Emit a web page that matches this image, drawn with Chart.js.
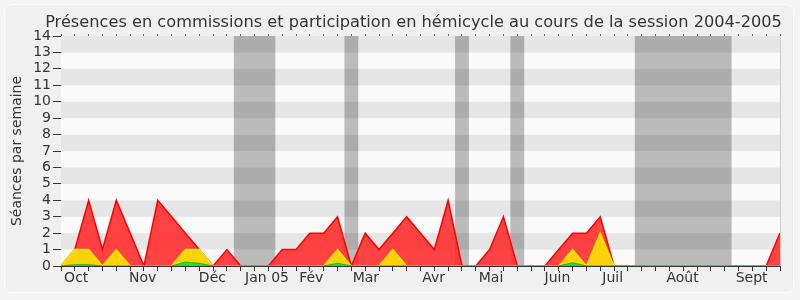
<!DOCTYPE html>
<html>
<head>
<meta charset="utf-8">
<script src="https://cdn.jsdelivr.net/npm/chart.js@4/dist/chart.umd.min.js"></script>
<style>
  body { margin: 0; background: #f5f5f5; }
  #wrap { position: relative; width: 800px; height: 300px; }
  #frame { position: absolute; left: 4px; top: 4px; width: 790px; height: 289px; box-sizing: border-box;
    border: 1px solid #fdfdfd; border-radius: 8px; background: #f0f0f0; }
  canvas { position: absolute; left: 0; top: 0; }
</style>
</head>
<body>
<div id="wrap">
  <div id="frame"></div>
  <canvas id="myChart" width="800" height="300"></canvas>
</div>
<script>
const titleText = "Présences en commissions et participation en hémicycle au cours de la session 2004-2005";

// one value per week, from the first week of the session
const weeks = [...Array(53).keys()];
const hemicycle = [0, 1, 4, 1, 4, 2, 0, 4, 3, 2, 1, 0, 1, 0, 0, 0, 1, 1, 2, 2, 3, 0, 2, 1, 2, 3, 2, 1, 4, 0,
  0, 1, 3, 0, 0, 0, 1, 2, 2, 3, 0, 0, 0, 0, 0, 0, 0, 0, 0, 0, 0, 0, 2];
const commission = [0, 1, 1, 0, 1, 0, 0, 0, 0, 1, 1, 0, 0, 0, 0, 0, 0, 0, 0, 0, 1, 0, 0, 0, 1, 0, 0, 0, 0, 0,
  0, 0, 0, 0, 0, 0, 0, 1, 0, 2, 0, 0, 0, 0, 0, 0, 0, 0, 0, 0, 0, 0, 0];
const interventions = [0, 0.08, 0.08, 0, 0, 0, 0, 0, 0, 0.24, 0.16, 0, 0, 0, 0, 0, 0, 0, 0, 0, 0.17, 0, 0, 0, 0, 0, 0, 0, 0, 0,
  0, 0, 0, 0, 0, 0, 0, 0.2, 0, 0, 0, 0, 0, 0, 0, 0, 0, 0, 0, 0, 0, 0, 0];

// month labels, placed in week units
const months = ["Oct", "Nov", "Déc", "Jan 05", "Fév", "Mar", "Avr", "Mai", "Juin", "Juil", "Août", "Sept"];
const monthWeeks = [1.1, 5.9, 10.95, 14.9, 18.1, 22.05, 26.95, 31.1, 35.9, 39.9, 44.95, 49.95];

// holidays (weeks without sittings)
const vacances = [[12.5, 15.5], [20.5, 21.5], [28.5, 29.5], [32.5, 33.5], [41.5, 48.5]];

const yMax = 14;
const font = "'DejaVu Sans', sans-serif";

const background = {
  id: "background",
  beforeDatasetsDraw: (chart) => {
    const { ctx, chartArea: a, scales: { x, y } } = chart;
    ctx.save();
    for (let v = 0; v < yMax; v++) {
      ctx.fillStyle = v % 2 ? "#e6e6e6" : "#fafafa";
      const top = y.getPixelForValue(v + 1);
      ctx.fillRect(a.left, top, a.right - a.left, y.getPixelForValue(v) - top);
    }
    ctx.fillStyle = "rgba(0,0,0,0.25)";
    vacances.forEach(([from, to]) => {
      const l = x.getPixelForValue(from);
      ctx.fillRect(l, a.top, x.getPixelForValue(to) - l, a.bottom - a.top);
    });
    ctx.strokeStyle = "#cccccc";
    ctx.lineWidth = 1;
    ctx.beginPath();
    ctx.moveTo(a.right + 0.5, a.top);
    ctx.lineTo(a.right + 0.5, a.bottom);
    ctx.stroke();
    ctx.restore();
  },
  afterDraw: (chart) => {
    const { ctx } = chart;
    ctx.save();
    ctx.fillStyle = "#333333";
    ctx.font = "16.2px " + font;
    ctx.textAlign = "center";
    ctx.textBaseline = "alphabetic";
    ctx.fillText(titleText, 413.5, 26.5);
    ctx.restore();
  }
};

const ctx = document.getElementById("myChart").getContext("2d");
const myChart = new Chart(ctx, {
  type: "line",
  data: {
    labels: weeks,
    // first dataset is painted last, so the small series come first
    datasets: [
      {
        label: "Interventions",
        data: interventions,
        fill: "origin",
        backgroundColor: "#22e022",
        borderColor: "#10c010",
        borderWidth: 1
      },
      {
        label: "Commissions",
        data: commission,
        fill: "origin",
        backgroundColor: "#ffd20a",
        borderColor: "#f2e600",
        borderWidth: 1.5
      },
      {
        label: "Hémicycle",
        data: hemicycle,
        fill: "origin",
        backgroundColor: "rgba(255,45,45,0.9)",
        borderColor: "#ff0000",
        borderWidth: 1.5
      }
    ]
  },
  options: {
    responsive: false,
    animation: false,
    layout: { padding: { top: 34, right: 20, bottom: 0, left: 0 } },
    elements: { point: { radius: 0 }, line: { tension: 0 } },
    plugins: { legend: { display: false }, tooltip: { enabled: false } },
    scales: {
      x: {
        type: "linear",
        min: 0,
        max: 52,
        afterBuildTicks: (axis) => {
          const ticks = weeks.map(w => ({ value: w }));
          monthWeeks.forEach(m => ticks.push({ value: m }));
          axis.ticks = ticks.sort((a, b) => a.value - b.value);
        },
        afterFit: (axis) => { axis.height = 34; },
        ticks: {
          autoSkip: false,
          maxRotation: 0,
          minRotation: 0,
          padding: -1,
          color: "#333333",
          font: { family: font, size: 14 },
          callback: (value) => {
            const i = monthWeeks.indexOf(value);
            return i < 0 ? "" : months[i];
          }
        },
        grid: {
          drawOnChartArea: false,
          tickLength: 5,
          tickColor: (c) => (c.tick && monthWeeks.includes(c.tick.value) ? "rgba(0,0,0,0)" : "#333333")
        },
        border: { color: "#333333" }
      },
      xTop: {
        type: "linear",
        position: "top",
        min: 0,
        max: 52,
        afterBuildTicks: (axis) => { axis.ticks = weeks.map(w => ({ value: w })); },
        afterFit: (axis) => { axis.height = 2; },
        ticks: { display: false, autoSkip: false },
        grid: { drawOnChartArea: false, tickLength: 2, tickColor: "#666666" },
        border: { display: false }
      },
      y: {
        min: 0,
        max: yMax,
        afterFit: (axis) => { axis.width = 61; },
        ticks: {
          stepSize: 1,
          autoSkip: false,
          padding: 2,
          color: "#333333",
          font: { family: font, size: 14 }
        },
        grid: { drawOnChartArea: false, tickLength: 8, tickColor: "#333333" },
        border: { color: "#333333" },
        title: {
          display: true,
          text: "Séances par semaine",
          color: "#333333",
          font: { family: font, size: 14 },
          padding: { top: 9, bottom: 0 }
        }
      }
    }
  },
  plugins: [background]
});
</script>
</body>
</html>
